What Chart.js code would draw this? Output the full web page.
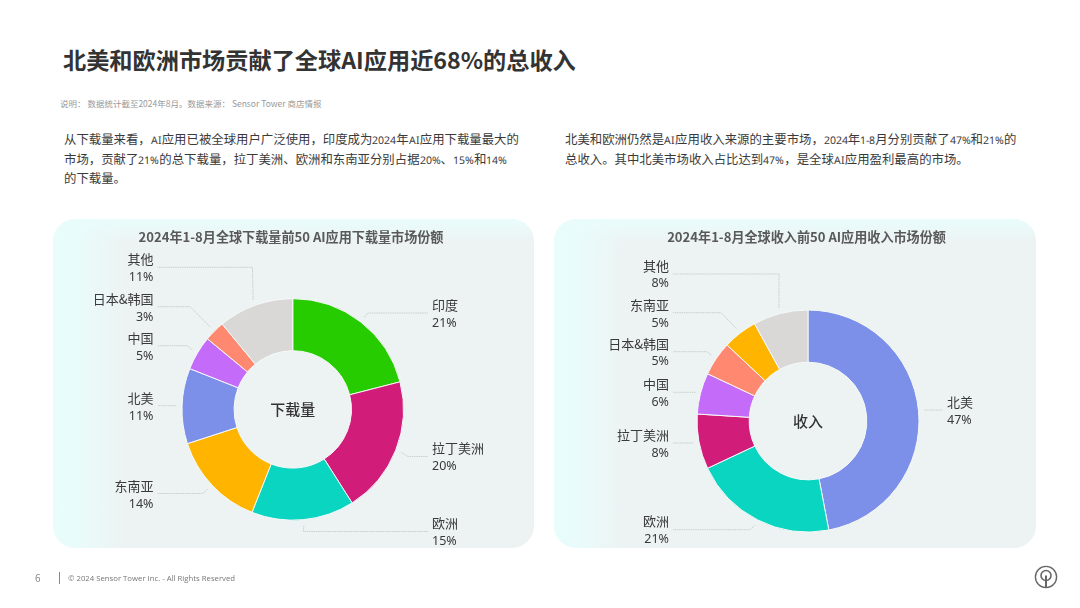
<!DOCTYPE html>
<html lang="zh">
<head>
<meta charset="utf-8">
<title>AI应用市场份额</title>
<script src="https://cdn.jsdelivr.net/npm/chart.js@4/dist/chart.umd.min.js"></script>
<style>
  @font-face { font-family: "ParaLatin"; src: local("Noto Sans"), local("Noto Sans Regular"), local("Open Sans"); size-adjust: 85%; unicode-range: U+0020-007E; }
  html, body { margin: 0; padding: 0; background: #fff; }
  body { width: 1080px; height: 608px; position: relative; overflow: hidden; font-family: "Noto Sans CJK SC", "Noto Sans", sans-serif; }
  .txt { position: absolute; white-space: nowrap; }
  #pageTitle { left: 63px; top: 41px; font-size: 23.2px; line-height: 36px; font-weight: 700; color: #333; }
  #note { left: 60px; top: 97px; font-size: 8.5px; line-height: 12px; color: #999; }
  .para { font-family: "ParaLatin", "Noto Sans CJK SC", sans-serif; font-size: 12.4px; line-height: 19.7px; color: #3a3a3a; top: 131px; }
  .panel { position: absolute; top: 219px; height: 329px; border-radius: 22px;
    background:
      linear-gradient(to bottom, #e9fcfc 0, rgba(233,252,252,0) 24px),
      linear-gradient(to right, #e9fdfd 0, #e9fbfb 24px, #edf3f2 72px); }
  canvas { position: absolute; left: 0; top: 0; }
  #pageNum { left: 35px; top: 571px; font-size: 10px; line-height: 14px; color: #888; }
  #footBar { position: absolute; left: 59px; top: 572px; width: 1px; height: 12px; background: #888; }
  #footer { left: 68px; top: 572px; font-family: "Open Sans", sans-serif; font-size: 7.75px; line-height: 12px; color: #777; }
  #logo { position: absolute; left: 1034px; top: 565px; }
</style>
</head>
<body>
<div class="txt" id="pageTitle">北美和欧洲市场贡献了全球AI应用近68%的总收入</div>
<div class="txt" id="note">说明： 数据统计截至2024年8月。数据来源： Sensor Tower 商店情报</div>
<div class="txt para" style="left:64px">从下载量来看，AI应用已被全球用户广泛使用，印度成为2024年AI应用下载量最大的<br>市场，贡献了21%的总下载量，拉丁美洲、欧洲和东南亚分别占据20%、15%和14%<br>的下载量。</div>
<div class="txt para" style="left:565px">北美和欧洲仍然是AI应用收入来源的主要市场，2024年1-8月分别贡献了47%和21%的<br>总收入。其中北美市场收入占比达到47%，是全球AI应用盈利最高的市场。</div>
<div class="panel" style="left:53px;width:481px"></div>
<div class="panel" style="left:554px;width:482px"></div>
<canvas id="downloadChart" width="1080" height="608"></canvas>
<canvas id="revenueChart" width="1080" height="608"></canvas>
<div class="txt" id="pageNum">6</div>
<div id="footBar"></div>
<div class="txt" id="footer">© 2024 Sensor Tower Inc. - All Rights Reserved</div>
<svg id="logo" width="24" height="24" viewBox="0 0 24 24" fill="none" stroke="#666">
  <circle cx="12" cy="12" r="10.6" stroke-width="1.4"/>
  <circle cx="12" cy="10.5" r="5" stroke-width="1.6"/>
  <path d="M12 10.5V22" stroke-width="2"/>
</svg>
<script>
// Chart data
const downloadRegions = ['印度', '拉丁美洲', '欧洲', '东南亚', '北美', '中国', '日本&韩国', '其他'];
const downloadShares = [21, 20, 15, 14, 11, 5, 3, 11];
const revenueRegions = ['北美', '欧洲', '拉丁美洲', '中国', '日本&韩国', '东南亚', '其他'];
const revenueShares = [47, 21, 8, 6, 5, 5, 8];

const regionColors = {
    '印度': '#26cc00',
    '拉丁美洲': '#d11d79',
    '欧洲': '#0ad5c0',
    '东南亚': '#ffb400',
    '北美': '#7c90ea',
    '中国': '#c56bfa',
    '日本&韩国': '#ff8870',
    '其他': '#dad7d7'
};

// Label placement per slice: text x, first line y, leader line y, leader knee x
const downloadLabels = [
    { x: 432, y: 305, lineY: 313, knee: 368 },
    { x: 432, y: 448, lineY: 456.5, knee: 408 },
    { x: 432, y: 523, lineY: 531.5, knee: 303.5 },
    { x: 153.5, y: 486, lineY: 493.5, knee: 203 },
    { x: 153.5, y: 398, lineY: 405.7, knee: 176 },
    { x: 153.5, y: 338.5, lineY: 345.7, knee: 187.5 },
    { x: 153.5, y: 299, lineY: 306.7, knee: 190 },
    { x: 153.5, y: 259.5, lineY: 267.3, knee: 252.5 }
];
const revenueLabels = [
    { x: 947, y: 402, lineY: 410, knee: 925 },
    { x: 669, y: 521, lineY: 529.7, knee: 750 },
    { x: 669, y: 435, lineY: 443, knee: 693 },
    { x: 669, y: 384.5, lineY: 392.3, knee: 695 },
    { x: 669, y: 343.7, lineY: 351.7, knee: 707 },
    { x: 669, y: 305, lineY: 312.7, knee: 721 },
    { x: 669, y: 265.7, lineY: 274, knee: 779 }
];

// Draws chart title, centre text, leader lines and slice labels
const donutText = {
    id: 'donutText',
    afterDraw(chart, args, opts) {
        const ctx = chart.ctx;
        const arcs = chart.getDatasetMeta(0).data;
        ctx.save();
        ctx.textBaseline = 'middle';

        ctx.textAlign = 'center';
        ctx.fillStyle = '#595959';
        ctx.font = '700 13.1px "Noto Sans CJK SC"';
        ctx.fillText(opts.title, opts.titleX, 237.5);

        ctx.fillStyle = '#333';
        ctx.font = '500 15px "Noto Sans CJK SC"';
        ctx.fillText(opts.center, arcs[0].x, arcs[0].y);

        arcs.forEach((arc, i) => {
            const place = opts.labels[i];
            const midAngle = (arc.startAngle + arc.endAngle) / 2;
            const startX = arc.x + Math.cos(midAngle) * (arc.outerRadius + 6);
            const startY = arc.y + Math.sin(midAngle) * (arc.outerRadius + 6);
            const onRight = place.x > arc.x;
            const lineEnd = onRight ? place.x - 4 : place.x + 4;

            ctx.beginPath();
            ctx.moveTo(startX, startY);
            ctx.lineTo(place.knee, place.lineY);
            ctx.lineTo(lineEnd, place.lineY);
            ctx.strokeStyle = '#bcc5c5';
            ctx.lineWidth = 0.8;
            ctx.setLineDash([1.5, 0.8]);
            ctx.stroke();
            ctx.setLineDash([]);

            ctx.textAlign = onRight ? 'left' : 'right';
            ctx.fillStyle = '#3a3a3a';
            ctx.font = '13px "Noto Sans CJK SC"';
            ctx.fillText(chart.data.labels[i], place.x, place.y);
            ctx.font = '12.5px "Noto Sans"';
            ctx.fillText(chart.data.datasets[0].data[i] + '%', place.x, place.y + 18);
        });
        ctx.restore();
    }
};

function makeDonut(canvasId, regions, shares, labels, title, center, titleX, padding) {
    return new Chart(document.getElementById(canvasId), {
        type: 'doughnut',
        data: {
            labels: regions,
            datasets: [{
                data: shares,
                backgroundColor: regions.map(r => regionColors[r]),
                borderColor: '#f4f8f8',
                borderWidth: 1
            }]
        },
        options: {
            responsive: false,
            animation: false,
            cutout: '53%',
            layout: { padding },
            plugins: {
                legend: { display: false },
                tooltip: { enabled: false },
                donutText: { labels, title, center, titleX }
            }
        },
        plugins: [donutText]
    });
}

makeDonut('downloadChart', downloadRegions, downloadShares, downloadLabels,
    '2024年1-8月全球下载量前50 AI应用下载量市场份额', '下载量', 291,
    { top: 297.8, bottom: 87, left: 181.5, right: 676 });
makeDonut('revenueChart', revenueRegions, revenueShares, revenueLabels,
    '2024年1-8月全球收入前50 AI应用收入市场份额', '收入', 806.5,
    { top: 309.5, bottom: 75.5, left: 696.5, right: 160.5 });
</script>
</body>
</html>
